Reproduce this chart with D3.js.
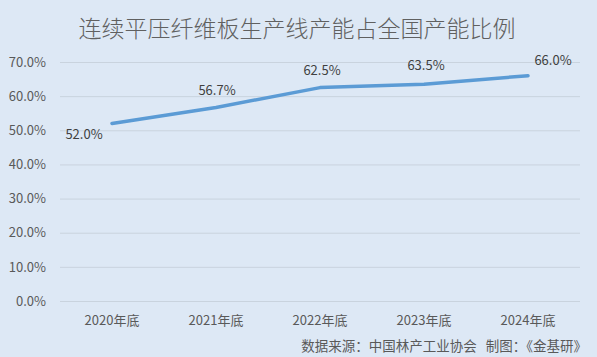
<!DOCTYPE html>
<html><head><meta charset="utf-8">
<script src="https://cdn.jsdelivr.net/npm/d3@7"></script>
<style>html,body{margin:0;padding:0;background:#dde8f5;}svg{display:block;}</style>
</head><body><div id="chart"></div>
<script>
const categories = ["2020年底","2021年底","2022年底","2023年底","2024年底"];
const values = [52.0, 56.7, 62.5, 63.5, 66.0];
const yTicks = [0,10,20,30,40,50,60,70];
const title = "连续平压纤维板生产线产能占全国产能比例";
const source = "数据来源：中国林产工业协会   制图：《金基研》";

const W = 597, H = 357;
const font = "'Noto Sans CJK SC','Microsoft YaHei',sans-serif";
const svg = d3.select("#chart").append("svg").attr("width", W).attr("height", H);
svg.append("rect").attr("width", W).attr("height", H).attr("fill", "#dde8f5");

const x = d3.scaleBand().domain(categories).range([60, 580]);
const y = d3.scaleLinear().domain([0, 70]).range([301, 62]);

svg.append("text").attr("x", 297).attr("y", 37).attr("text-anchor","middle")
  .attr("font-family", font).attr("font-size", 23).attr("font-weight", 300).attr("fill", "#606060").text(title);

const yAxis = svg.append("g").attr("transform","translate(60,0)")
  .call(d3.axisLeft(y).tickValues(yTicks).tickSize(-520).tickFormat(d => d.toFixed(1) + "%"));
yAxis.select(".domain").remove();
yAxis.selectAll(".tick line").attr("stroke", "#c9d3de").attr("stroke-width", 1);
yAxis.selectAll(".tick text").attr("x", -14).attr("font-family", font).attr("font-size", 13).attr("fill", "#595959");

const xAxis = svg.append("g").attr("transform","translate(0,301)")
  .call(d3.axisBottom(x).tickSize(0));
xAxis.select(".domain").remove();
xAxis.selectAll(".tick text").attr("dy", 21).attr("font-family", font).attr("font-size", 13).attr("fill", "#595959");

const line = d3.line().x((d,i) => x(categories[i]) + x.bandwidth()/2).y(d => y(d));
svg.append("path").datum(values).attr("d", line).attr("fill","none")
  .attr("stroke", "#5b9bd5").attr("stroke-width", 3.5).attr("stroke-linecap","round").attr("stroke-linejoin","round");

const offsets = [[-28, 16], [1, -12], [2, -13], [2, -14], [25, -11]];
svg.append("g").selectAll("text").data(values).join("text")
  .attr("x", (d,i) => x(categories[i]) + x.bandwidth()/2 + offsets[i][0])
  .attr("y", (d,i) => y(d) + offsets[i][1])
  .attr("text-anchor","middle").attr("font-family", font).attr("font-size", 13).attr("fill", "#404040")
  .text(d => d.toFixed(1) + "%");

svg.append("text").attr("x", 587).attr("y", 351).attr("text-anchor","end")
  .attr("font-family", font).attr("font-size", 13.5).attr("fill", "#595959").attr("xml:space","preserve")
  .style("white-space","pre").text(source);
</script></body></html>
